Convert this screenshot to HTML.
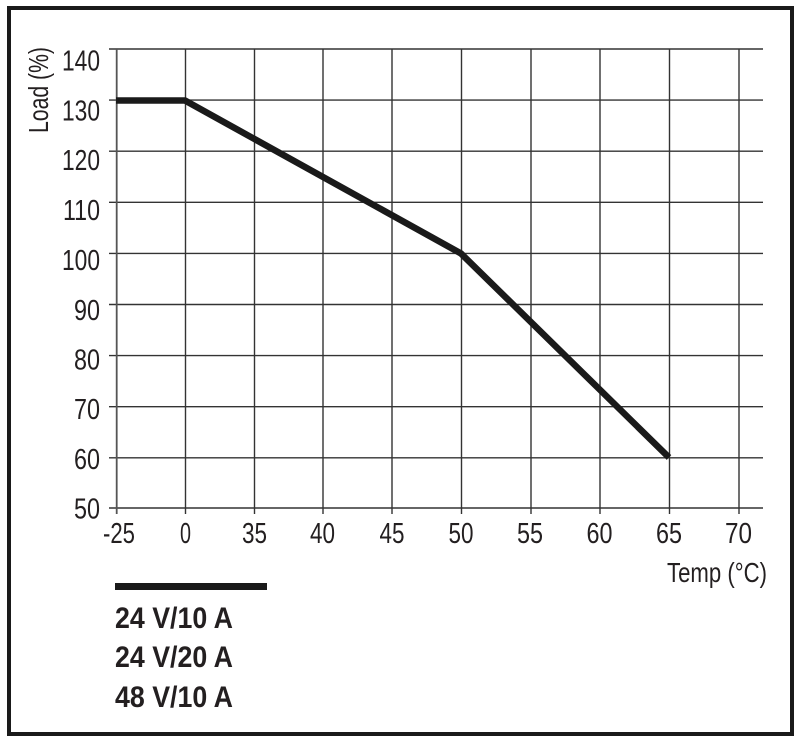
<!DOCTYPE html>
<html>
<head>
<meta charset="utf-8">
<style>
html,body{margin:0;padding:0;background:#fff;}
svg{display:block;}
text{font-family:"Liberation Sans Narrow","Liberation Sans",sans-serif;fill:#231f20;}
</style>
</head>
<body>
<svg width="800" height="741" viewBox="0 0 800 741" xmlns="http://www.w3.org/2000/svg">
<rect x="0" y="0" width="800" height="741" fill="#fff"/>
<rect x="9" y="8" width="783" height="726" fill="none" stroke="#1a1a1a" stroke-width="4"/>

<!-- horizontal grid -->
<g stroke="#333" stroke-width="1.4">
<line x1="109" y1="49" x2="763" y2="49"/>
<line x1="109" y1="100.1" x2="763" y2="100.1"/>
<line x1="109" y1="151.2" x2="763" y2="151.2"/>
<line x1="109" y1="202.3" x2="763" y2="202.3"/>
<line x1="109" y1="253.4" x2="763" y2="253.4"/>
<line x1="109" y1="304.5" x2="763" y2="304.5"/>
<line x1="109" y1="355.6" x2="763" y2="355.6"/>
<line x1="109" y1="406.7" x2="763" y2="406.7"/>
<line x1="109" y1="457.8" x2="763" y2="457.8"/>
<line x1="109" y1="508" x2="763" y2="508"/>
</g>
<!-- vertical grid -->
<g stroke="#333" stroke-width="1.4">
<line x1="116.7" y1="49" x2="116.7" y2="514" stroke-width="1.8" stroke="#555"/>
<line x1="185.5" y1="49" x2="185.5" y2="514"/>
<line x1="254.5" y1="49" x2="254.5" y2="514"/>
<line x1="323" y1="49" x2="323" y2="514"/>
<line x1="392" y1="49" x2="392" y2="514"/>
<line x1="461.5" y1="49" x2="461.5" y2="514"/>
<line x1="531" y1="49" x2="531" y2="514"/>
<line x1="600" y1="49" x2="600" y2="514"/>
<line x1="669.5" y1="49" x2="669.5" y2="514"/>
<line x1="739" y1="49" x2="739" y2="514"/>
</g>

<!-- data line -->
<polyline points="116,100.5 185,100.5 461,253.5 669,457.5" fill="none" stroke="#1a1a1a" stroke-width="6.5" stroke-linejoin="round"/>

<!-- y tick labels -->
<g font-size="29" text-anchor="end">
<text x="100" y="70.5" textLength="38" lengthAdjust="spacingAndGlyphs">140</text>
<text x="100" y="120.4" textLength="38" lengthAdjust="spacingAndGlyphs">130</text>
<text x="100" y="170.2" textLength="38" lengthAdjust="spacingAndGlyphs">120</text>
<text x="100" y="220" textLength="37" lengthAdjust="spacingAndGlyphs">110</text>
<text x="100" y="270" textLength="38" lengthAdjust="spacingAndGlyphs">100</text>
<text x="100" y="320" textLength="26" lengthAdjust="spacingAndGlyphs">90</text>
<text x="100" y="369.5" textLength="26" lengthAdjust="spacingAndGlyphs">80</text>
<text x="100" y="419" textLength="26" lengthAdjust="spacingAndGlyphs">70</text>
<text x="100" y="469" textLength="26" lengthAdjust="spacingAndGlyphs">60</text>
<text x="100" y="518.5" textLength="26" lengthAdjust="spacingAndGlyphs">50</text>
</g>

<!-- x tick labels -->
<g font-size="29" text-anchor="middle">
<text x="119" y="543" textLength="32" lengthAdjust="spacingAndGlyphs">-25</text>
<text x="185.5" y="543" textLength="11" lengthAdjust="spacingAndGlyphs">0</text>
<text x="254.5" y="543" textLength="25" lengthAdjust="spacingAndGlyphs">35</text>
<text x="322.5" y="543" textLength="25" lengthAdjust="spacingAndGlyphs">40</text>
<text x="392" y="543" textLength="25" lengthAdjust="spacingAndGlyphs">45</text>
<text x="461" y="543" textLength="25" lengthAdjust="spacingAndGlyphs">50</text>
<text x="530" y="543" textLength="26" lengthAdjust="spacingAndGlyphs">55</text>
<text x="599.5" y="543" textLength="26" lengthAdjust="spacingAndGlyphs">60</text>
<text x="669" y="543" textLength="26" lengthAdjust="spacingAndGlyphs">65</text>
<text x="738.5" y="543" textLength="27" lengthAdjust="spacingAndGlyphs">70</text>
</g>

<!-- axis titles -->
<text x="667" y="582" font-size="28" textLength="100" lengthAdjust="spacingAndGlyphs">Temp (°C)</text>
<text transform="translate(48,133) rotate(-90)" font-size="28" textLength="86" lengthAdjust="spacingAndGlyphs">Load (%)</text>

<!-- legend -->
<rect x="115" y="583" width="152" height="7" fill="#1a1a1a"/>
<g font-size="30" font-weight="bold">
<text x="115" y="628" textLength="118" lengthAdjust="spacingAndGlyphs">24 V/10 A</text>
<text x="115" y="667" textLength="118" lengthAdjust="spacingAndGlyphs">24 V/20 A</text>
<text x="115" y="707" textLength="118" lengthAdjust="spacingAndGlyphs">48 V/10 A</text>
</g>
</svg>
</body>
</html>
